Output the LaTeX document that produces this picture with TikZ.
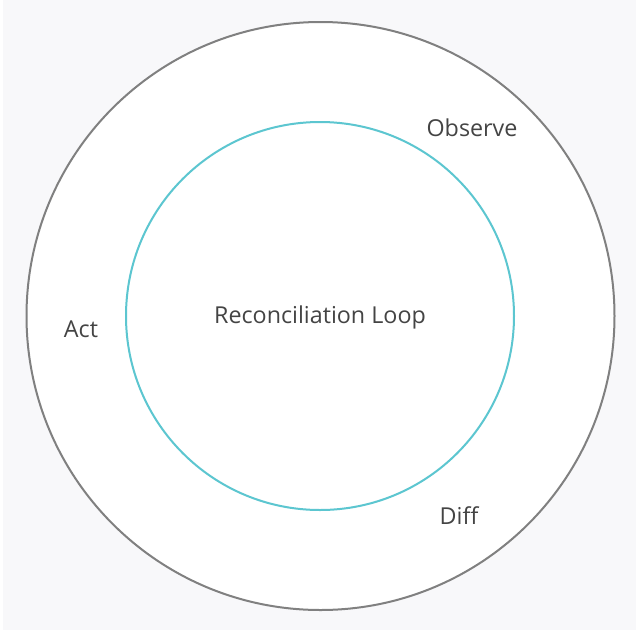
\documentclass[tikz,border=0pt]{standalone}
\usepackage{fontspec}
\setmainfont{Open Sans}
\definecolor{bg}{HTML}{F8F8FA}
\definecolor{outerc}{HTML}{808080}
\definecolor{innerc}{HTML}{5CC6D0}
\definecolor{txt}{HTML}{444444}
\begin{document}
\begin{tikzpicture}[x=1pt,y=-1pt,
  lbl/.style={text=txt,font=\fontsize{23.3}{28}\selectfont,inner sep=0pt}]
\useasboundingbox (0,0) rectangle (638,633);
\fill[white] (0,0) rectangle (638,633);
\fill[bg] (3,0) rectangle (636,630);
\node[circle,draw=outerc,line width=2pt,fill=white,minimum size=588pt,inner sep=0pt] (outer) at (320.5,316) {};
\node[circle,draw=innerc,line width=2pt,minimum size=388pt,inner sep=0pt] (inner) at (320,316) {};
\node[lbl] (loop) at (320,317) {Reconciliation Loop};
\node[lbl] (observe) at (472,128) {Observe};
\node[lbl] (act) at (81,329) {Act};
\node[lbl] (diff) at (459,516) {Diff};
\end{tikzpicture}
\end{document}
